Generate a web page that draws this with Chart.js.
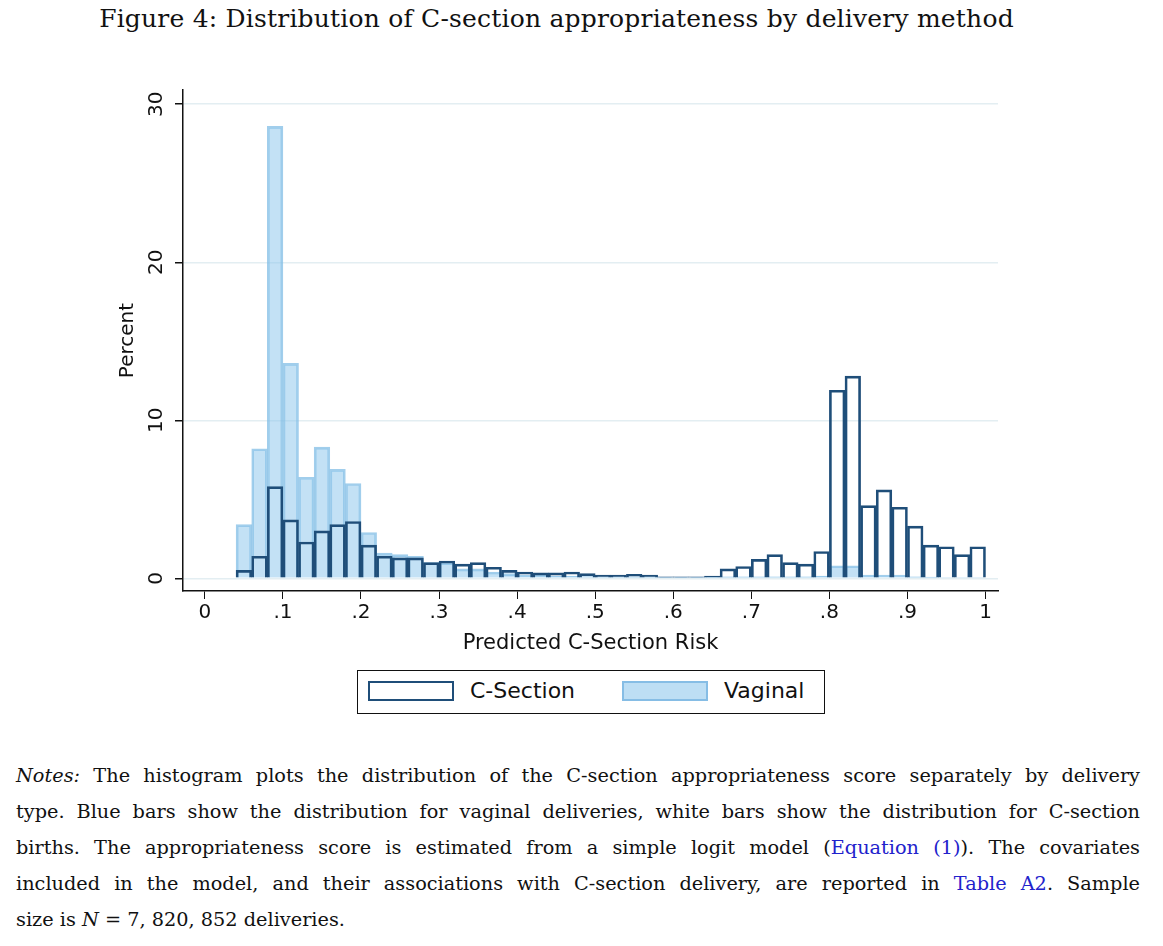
<!DOCTYPE html>
<html><head><meta charset="utf-8">
<script src="https://cdn.jsdelivr.net/npm/chart.js@4"></script>
<style>
body{margin:0;background:#fff;width:1163px;height:946px;position:relative;overflow:hidden}
#title{position:absolute;top:4px;left:0;width:1113px;text-align:center;font-family:"DejaVu Serif",serif;font-size:25px;color:#111;letter-spacing:0.2px}
#wrap{position:absolute;left:0;top:60px;width:1163px;height:600px}
#legend{position:absolute;left:357px;top:670px;width:466px;height:42px;border:1.5px solid #111;font-family:"DejaVu Sans",sans-serif;font-size:22px;color:#111}
.sw{position:absolute;top:10px;width:86px;height:20px}
#notes{position:absolute;left:16px;top:758px;width:1124px;font-family:"DejaVu Serif",serif;font-size:19.3px;line-height:36px;color:#111}
#notes div{text-align:justify;text-align-last:justify;white-space:nowrap}
#notes div.last{text-align-last:left}
a{color:#2222cc;text-decoration:none}
</style></head><body>
<div id="title">Figure 4: Distribution of C-section appropriateness by delivery method</div>
<div id="wrap"><canvas id="c" width="1163" height="600"></canvas></div>
<div id="legend">
<div class="sw" style="left:10px;border:2px solid #1f4e79;box-sizing:border-box"></div><span style="position:absolute;left:112px;top:7px">C-Section</span>
<div class="sw" style="left:264px;background:rgba(135,195,235,0.55);border:2px solid rgba(120,180,225,0.8);box-sizing:border-box"></div><span style="position:absolute;left:366px;top:7px">Vaginal</span>
</div>
<div id="notes">
<div><i>Notes:</i> The histogram plots the distribution of the C-section appropriateness score separately by delivery</div>
<div>type. Blue bars show the distribution for vaginal deliveries, white bars show the distribution for C-section</div>
<div>births. The appropriateness score is estimated from a simple logit model (<a>Equation (1)</a>). The covariates</div>
<div>included in the model, and their associations with C-section delivery, are reported in <a>Table A2</a>. Sample</div>
<div class="last">size is <i>N</i> = 7, 820, 852 deliveries.</div>
</div>
<script>
const binStarts=[0.04,0.06,0.08,0.10,0.12,0.14,0.16,0.18,0.20,0.22,0.24,0.26,0.28,0.30,0.32,0.34,0.36,0.38,0.40,0.42,0.44,0.46,0.48,0.50,0.52,0.54,0.56,0.58,0.60,0.62,0.64,0.66,0.68,0.70,0.72,0.74,0.76,0.78,0.80,0.82,0.84,0.86,0.88,0.90,0.92,0.94,0.96,0.98];
const csection=[0.5,1.4,5.8,3.7,2.3,3.0,3.4,3.6,2.1,1.4,1.3,1.3,1.0,1.1,0.9,1.0,0.7,0.5,0.4,0.35,0.35,0.4,0.3,0.2,0.2,0.25,0.2,0.1,0.1,0.1,0.15,0.6,0.75,1.2,1.5,1.0,0.9,1.7,11.9,12.8,4.6,5.6,4.5,3.3,2.1,2.0,1.5,2.0];
const vaginal=[3.4,8.2,28.6,13.6,6.4,8.3,6.9,6.0,2.9,1.6,1.5,1.4,1.0,1.0,0.6,0.6,0.4,0.3,0.2,0.2,0.15,0.15,0.12,0.1,0.1,0.1,0.1,0.08,0.08,0.08,0.08,0.1,0.1,0.1,0.1,0.1,0.1,0.15,0.8,0.8,0.2,0.2,0.2,0.1,0.08,0.05,0.05,0.05];
const xTicks=[0,0.1,0.2,0.3,0.4,0.5,0.6,0.7,0.8,0.9,1];
const yTicks=[0,10,20,30];
const pts=a=>a.map((v,i)=>({x:binStarts[i]+0.01,y:v}));
const fmt=v=>v===0?'0':v===1?'1':'.'+Math.round(v*10);
const yLab={id:'yl',afterDraw(ch){const s=ch.scales.y,c=ch.ctx;c.save();c.font='20px "DejaVu Sans"';c.fillStyle='#111';c.textAlign='center';c.textBaseline='middle';
yTicks.forEach(t=>{c.save();c.translate(s.right-26,s.getPixelForValue(t));c.rotate(-Math.PI/2);c.fillText(String(t),0,0);c.restore();});
c.save();c.translate(s.right-55,(ch.chartArea.top+ch.chartArea.bottom)/2);c.rotate(-Math.PI/2);c.fillText('Percent',0,0);c.restore();c.restore();}};
new Chart(document.getElementById('c'),{type:'bar',
data:{datasets:[
{label:'C-Section',data:pts(csection),backgroundColor:'rgba(0,0,0,0)',borderColor:'#1f4e79',borderWidth:2,barPercentage:1,categoryPercentage:1,grouped:false},
{label:'Vaginal',data:pts(vaginal),backgroundColor:'rgba(135,195,235,0.5)',borderColor:'rgba(130,190,230,0.75)',borderWidth:2,barPercentage:1,categoryPercentage:1,grouped:false}]},
options:{responsive:false,animation:false,devicePixelRatio:1,layout:{padding:{top:30,right:165,left:0,bottom:0}},
plugins:{legend:{display:false},tooltip:{enabled:false}},
scales:{
x:{type:'linear',offset:false,min:-0.028,max:1.016,afterBuildTicks:s=>{s.ticks=xTicks.map(v=>({value:v}));},afterFit:s=>{s.height=69;},
grid:{display:true,offset:false,drawOnChartArea:false,drawTicks:true,tickLength:8,tickColor:'#111'},border:{color:'#111',width:1.5},
ticks:{callback:v=>fmt(v),color:'#111',font:{family:'DejaVu Sans',size:20},maxRotation:0,padding:2},
title:{display:true,text:'Predicted C-Section Risk',color:'#111',font:{family:'DejaVu Sans',size:21},padding:{top:2}}},
y:{min:-0.8,max:30.9,afterBuildTicks:s=>{s.ticks=yTicks.map(v=>({value:v}));},afterFit:s=>{s.width=183;},
grid:{color:'#e3eef2',lineWidth:1.5,tickColor:'#111',tickLength:8},border:{color:'#111',width:1.5},
ticks:{display:true,color:'rgba(0,0,0,0)',callback:()=>''}}}},
plugins:[yLab]});
</script>
</body></html>
